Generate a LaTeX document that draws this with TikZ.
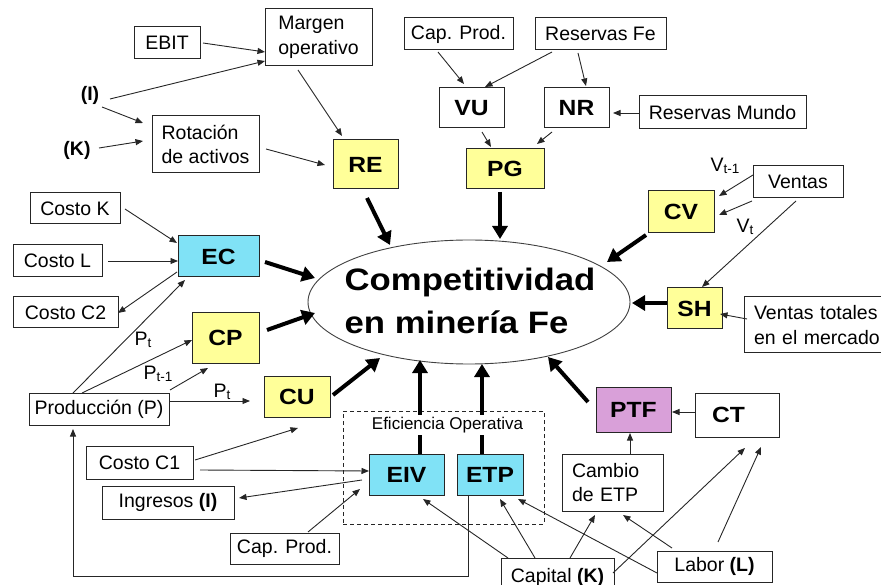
\documentclass[tikz,border=0pt]{standalone}
\usepackage{fontspec}
\setmainfont{Liberation Sans}
\newfontfamily\bfx[FakeStretch=1.12]{Liberation Sans}
\usetikzlibrary{arrows.meta,shapes.geometric}
\definecolor{yel}{RGB}{255,255,153}
\definecolor{cya}{RGB}{128,226,246}
\definecolor{plm}{RGB}{217,160,217}
\newcommand\sbs[1]{\raisebox{-1.5pt}{\fontsize{13.5}{14}\selectfont #1}}
\begin{document}
\begin{tikzpicture}[x=1pt,y=-1pt,
  box/.style={draw=black!85, line width=1pt, inner sep=0pt, outer sep=0pt, fill=white,
    font=\fontsize{19.5}{24.5}\selectfont, align=center},
  wh/.style 2 args={minimum width=#1pt, minimum height=#2pt},
  bbox/.style={box, font=\bfx\bfseries\fontsize{22}{26}\selectfont},
  lab/.style={inner sep=0pt, font=\fontsize{19.5}{24}\selectfont},
  arr/.style={draw=black!85, line width=0.9pt, -{Triangle[length=7.5pt,width=6pt]}},
  thk/.style={draw=black, line width=4pt, -{Triangle[length=13pt,width=15pt]}}]
\useasboundingbox (0,0) rectangle (881,585);

% ---- nodes ----
\node[box, wh={66}{32}] (ebit) at (167,43) {EBIT};
\node[box, wh={107}{57}, align=left] (marg) at (318.5,37.5) {Margen\\operativo};
\node[lab] (ilab) at (90,95) {\textbf{(I)}};
\node[lab] (klab) at (77,150) {\textbf{(K)}};
\node[box, wh={107}{57}, align=left] (rot) at (205.5,144.5) {Rotación\\de activos};
\node[bbox, wh={65}{49}, fill=yel] (re) at (365.5,164.5) {RE};
\node[box, wh={109}{32}] (captop) at (458.5,34) {Cap. Prod.};
\node[box, wh={131}{32}] (resfe) at (600.5,34) {Reservas Fe};
\node[bbox, wh={65}{40}] (vu) at (471.5,108) {VU};
\node[bbox, wh={65}{40}] (nr) at (576.5,108) {NR};
\node[bbox, wh={78}{40}, fill=yel] (pg) at (505,169) {PG};
\node[box, wh={167}{33}] (resm) at (722.5,112.5) {Reservas Mundo};
\node[box, wh={90}{32}] (ventas) at (798,182) {Ventas};
\node[lab] (vt1) at (725,166) {V\sbs{t-1}};
\node[lab] (vt) at (745,227) {V\sbs{t}};
\node[bbox, wh={66}{42}, fill=yel] (cv) at (681,212) {CV};
\node[bbox, wh={55}{41}, fill=yel] (sh) at (694.5,308.5) {SH};
\node[box, wh={146}{56}, text width=126pt, align=left] (vtot) at (817,325) {Ventas totales\\en el mercado};
\node[ellipse, draw=black!75, line width=0.9pt, minimum width=322pt, minimum height=124pt, inner sep=0pt, outer sep=0pt] (ell) at (469,302) {};
\node[inner sep=0pt, align=left, font=\bfx\bfseries\fontsize{31}{43}\selectfont] (elltext) at (470,301) {Competitividad\\en minería Fe};
\node[box, wh={90}{31}] (costok) at (75,208.5) {Costo K};
\node[box, wh={89}{32}] (costol) at (57.5,261) {Costo L};
\node[box, wh={105}{31}] (costoc2) at (65.5,312.5) {Costo C2};
\node[bbox, wh={81}{41}, fill=cya] (ec) at (218.5,256.5) {EC};
\node[bbox, wh={67}{50}, fill=yel] (cp) at (225.5,338) {CP};
\node[box, wh={140}{32}] (prod) at (99,409) {Producción (P)};
\node[bbox, wh={66}{41}, fill=yel] (cu) at (297,396.5) {CU};
\node[draw=black!85, line width=0.9pt, dash pattern=on 4pt off 3pt, minimum width=201pt, minimum height=113pt, inner sep=0pt, outer sep=0pt] (eff) at (443.5,467.5) {};
\node[bbox, wh={75}{41}, fill=cya] (eiv) at (406.5,474.5) {EIV};
\node[bbox, wh={66}{41}, fill=cya] (etp) at (490,474.5) {ETP};
\node[bbox, wh={75}{45}, fill=plm] (ptf) at (633.5,409.5) {PTF};
\node[bbox, wh={84}{44}, text width=50pt, align=left] (ct) at (737,415) {CT};
\node[box, wh={101}{57}, text width=81pt, align=left] (cambio) at (612.5,482.5) {Cambio\\de ETP};
\node[box, wh={109}{31}] (capbot) at (284.5,548.5) {Cap. Prod.};
\node[box, wh={107}{33}] (costoc1) at (139.5,462.5) {Costo C1};
\node[box, wh={132}{33}] (ingresos) at (168,502.5) {Ingresos \textbf{(I)}};
\node[box, wh={113}{38}] (capital) at (557.5,577) {Capital \textbf{(K)}};
\node[box, wh={115}{31}] (labor) at (714.5,566.5) {Labor \textbf{(L)}};
\node[lab] (pt1) at (143,340) {P\sbs{t}};
\node[lab] (ptm) at (158,374) {P\sbs{t-1}};
\node[lab] (pt2) at (222,392) {P\sbs{t}};

% ---- thin connectors ----
\draw[arr] ([shift={(69,16)}]ebit.north west) -- ([shift={(0,43)}]marg.north west);
\draw[arr] ([shift={(20,4)}]ilab.center) -- ([shift={(0,52)}]marg.north west);
\draw[arr] ([shift={(12,12)}]ilab.center) -- ([shift={(-9,7)}]rot.north west);
\draw[arr] ([shift={(22,-2)}]klab.center) -- ([shift={(-9,25)}]rot.north west);
\draw[arr] ([shift={(114,33)}]rot.north west) -- ([shift={(-8,25)}]re.north west);
\draw[arr] ([shift={(33,61)}]marg.north west) -- ([shift={(9,-4)}]re.north west);
\draw[arr] ([shift={(34,34)}]captop.north west) -- ([shift={(25,-4)}]vu.north west);
\draw[arr] ([shift={(17,34)}]resfe.north west) -- ([shift={(46,-1)}]vu.north west);
\draw[arr] ([shift={(43,35)}]resfe.north west) -- ([shift={(42,-2)}]nr.north west);
\draw[arr] ([shift={(43,44)}]vu.north west) -- ([shift={(25,-2)}]pg.north west);
\draw[arr] ([shift={(8,44)}]nr.north west) -- ([shift={(71,-5)}]pg.north west);
\draw[arr] ([shift={(0,17)}]resm.north west) -- ([shift={(69,25)}]nr.north west);
\draw[arr] ([shift={(0,9)}]ventas.north west) -- ([shift={(71,5)}]cv.north west);
\draw[arr] ([shift={(-1,35)}]ventas.north west) -- ([shift={(71,24)}]cv.north west);
\draw[arr] ([shift={(43,35)}]ventas.north west) -- ([shift={(35,-1)}]sh.north west);
\draw[arr] ([shift={(3,22)}]vtot.north west) -- ([shift={(53,26)}]sh.north west);
\draw[arr] ([shift={(95,16)}]costok.north west) -- ([shift={(-1,7)}]ec.north west);
\draw[arr] ([shift={(95,16)}]costol.north west) -- ([shift={(0,25)}]ec.north west);
\draw[arr] ([shift={(-1,36)}]ec.north west) -- ([shift={(105,16)}]costoc2.north west);
\draw[arr] ([shift={(44,0)}]prod.north west) -- ([shift={(7,44)}]ec.north west);
\draw[arr] ([shift={(53,0)}]prod.north west) -- ([shift={(0,27)}]cp.north west);
\draw[arr] ([shift={(141,-3)}]prod.north west) -- ([shift={(16,55)}]cp.north west);
\draw[arr] ([shift={(140,8)}]prod.north west) -- ([shift={(-14,25)}]cu.north west);
\draw[arr] ([shift={(0,19)}]ct.north west) -- ([shift={(76,25)}]ptf.north west);
\draw[arr] ([shift={(68,0)}]cambio.north west) -- ([shift={(34,46)}]ptf.north west);
\draw[arr] ([shift={(109,14)}]costoc1.north west) -- ([shift={(34,52)}]cu.north west);
\draw[arr] ([shift={(114,24)}]costoc1.north west) -- ([shift={(0,17)}]eiv.north west);
\draw[arr] ([shift={(-7,26)}]eiv.north west) -- ([shift={(137,12)}]ingresos.north west);
\draw[arr] ([shift={(78,-1)}]capbot.north west) -- ([shift={(-9,35)}]eiv.north west);
\draw[arr] ([shift={(11,41)}]etp.north west) |- ([shift={(44,183)}]prod.north west) -- ([shift={(44,36)}]prod.north west);
\draw[arr] ([shift={(7,0)}]capital.north west) -- ([shift={(54,45)}]eiv.north west);
\draw[arr] ([shift={(34,0)}]capital.north west) -- ([shift={(43,45)}]etp.north west);
\draw[arr] ([shift={(69,0)}]capital.north west) -- ([shift={(33,61)}]cambio.north west);
\draw[arr] ([shift={(112,15)}]capital.north west) -- ([shift={(50,55)}]ct.north west);
\draw[arr] ([shift={(0,22)}]labor.north west) -- ([shift={(61,45)}]etp.north west);
\draw[arr] ([shift={(15,-3)}]labor.north west) -- ([shift={(61,61)}]cambio.north west);
\draw[arr] ([shift={(61,-9)}]labor.north west) -- ([shift={(66,54)}]ct.north west);

% ---- thick connectors ----
\draw[thk] ([shift={(0,15)}]sh.north west) -- ([shift={(2,1)}]ell.east);
\draw[thk] ([shift={(-2,44)}]cv.north west) -- ([shift={(138,-40)}]ell.center);
\draw[thk] ([shift={(87,26)}]ec.north west) -- ([shift={(-154,-24)}]ell.center);
\draw[thk] ([shift={(75,17)}]cp.north west) -- ([shift={(-154,11)}]ell.center);
\draw[thk] ([shift={(69,19)}]cu.north west) -- ([shift={(-89,56)}]ell.center);
\draw[thk] ([shift={(34,58)}]re.north west) -- ([shift={(-79,-57)}]ell.center);
\draw[thk] ([shift={(34,43)}]pg.north west) -- ([shift={(31,-63)}]ell.center);
\draw[thk] ([shift={(51,0)}]eiv.north west) -- ([shift={(-49,58)}]ell.center);
\draw[thk] ([shift={(25,0)}]etp.north west) -- ([shift={(13,62)}]ell.center);
\draw[thk] ([shift={(-8,15)}]ptf.north west) -- ([shift={(79,55)}]ell.center);

\node[fill=white, inner xsep=1pt, inner ysep=2pt, font=\fontsize{17}{20}\selectfont] (efflab) at (447.5,425) {Eficiencia Operativa};
\end{tikzpicture}
\end{document}
